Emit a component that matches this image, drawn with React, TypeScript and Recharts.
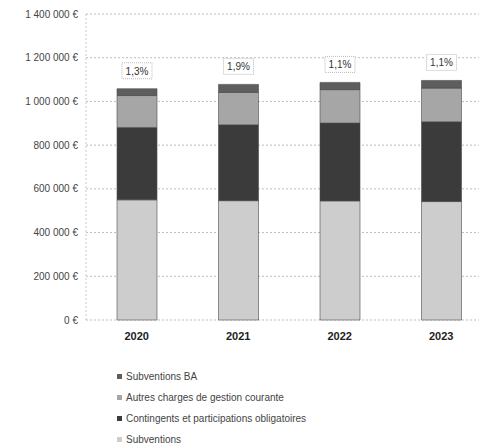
import React from "react";
import { BarChart, Bar, XAxis, YAxis, CartesianGrid, LabelList } from "recharts";

// Years on the horizontal axis
const years = ["2020", "2021", "2022", "2023"];

// Stacked series values (€), bottom to top
const subventions = [550000, 546000, 545000, 542000];
const contingents = [331000, 347000, 356000, 365000];
const autresCharges = [146000, 148000, 153000, 154000];
const subventionsBA = [31000, 37000, 33000, 35000];

// Labels displayed above each column
const topLabels = ["1,3%", "1,9%", "1,1%", "1,1%"];

// Y-axis ticks
const yTicks = [0, 200000, 400000, 600000, 800000, 1000000, 1200000, 1400000];

const series = [
  { key: "subventions", name: "Subventions", color: "#cdcdcd" },
  { key: "contingents", name: "Contingents et participations obligatoires", color: "#3b3b3b" },
  { key: "autres", name: "Autres charges de gestion courante", color: "#a6a6a6" },
  { key: "ba", name: "Subventions BA", color: "#5e5e5e" },
];

const data = years.map((year, i) => ({
  year,
  subventions: subventions[i],
  contingents: contingents[i],
  autres: autresCharges[i],
  ba: subventionsBA[i],
  label: topLabels[i],
}));

const formatEuro = (v: number) =>
  `${String(v).replace(/\B(?=(\d{3})+(?!\d))/g, " ")} €`;

const fontFamily = "'Liberation Sans', Arial, sans-serif";

const TopLabel = (props: any) => {
  const { x, y, width, value } = props;
  const cx = x + width / 2;
  const w = 30;
  const h = 16;
  const top = y - 26;
  return (
    <g>
      <rect x={cx - w / 2} y={top} width={w} height={h} fill="#fff" stroke="#aaa" strokeDasharray="1 1" strokeWidth={0.8} />
      <text x={cx} y={top + 12} textAnchor="middle" fontSize={10} fill="#333" fontFamily={fontFamily}>
        {value}
      </text>
    </g>
  );
};

const LegendList = () => {
  const items = [...series].reverse();
  return (
    <div style={{ position: "absolute", left: 109, top: 358, fontFamily, fontSize: 10, color: "#444" }}>
      {items.map((s) => (
        <div key={s.key} style={{ display: "flex", alignItems: "center", height: 21 }}>
          <span style={{ display: "inline-block", width: 5, height: 5, background: s.color, marginRight: 4 }} />
          <span>{s.name}</span>
        </div>
      ))}
    </div>
  );
};

export default function App() {
  return (
    <div style={{ position: "relative", width: 479, height: 440, overflow: "hidden" }}>
      <BarChart
        width={490}
        height={440}
        data={data}
        margin={{ top: 6, right: 6, left: 0, bottom: 98 }}
        barSize={40}
      >
        <CartesianGrid vertical={false} stroke="#bdbdbd" strokeDasharray="2 2" />
        <XAxis
          dataKey="year"
          axisLine={false}
          tickLine={false}
          tick={{ fontSize: 11, fontWeight: 700, fill: "#222", fontFamily }}
          dy={4}
        />
        <YAxis
          width={78}
          domain={[0, 1400000]}
          ticks={yTicks}
          tickFormatter={formatEuro}
          axisLine={{ stroke: "#c8c8c8", strokeDasharray: "2 2" }}
          tickLine={false}
          tick={{ fontSize: 10, fill: "#444", fontFamily }}
          interval={0}
        />
        {series.map((s) => (
          <Bar
            key={s.key}
            dataKey={s.key}
            name={s.name}
            stackId="a"
            fill={s.color}
            stroke="#4a4a4a"
            strokeWidth={0.6}
            isAnimationActive={false}
          >
            {s.key === "ba" && <LabelList dataKey="label" content={TopLabel} />}
          </Bar>
        ))}
      </BarChart>
      <LegendList />
    </div>
  );
}
